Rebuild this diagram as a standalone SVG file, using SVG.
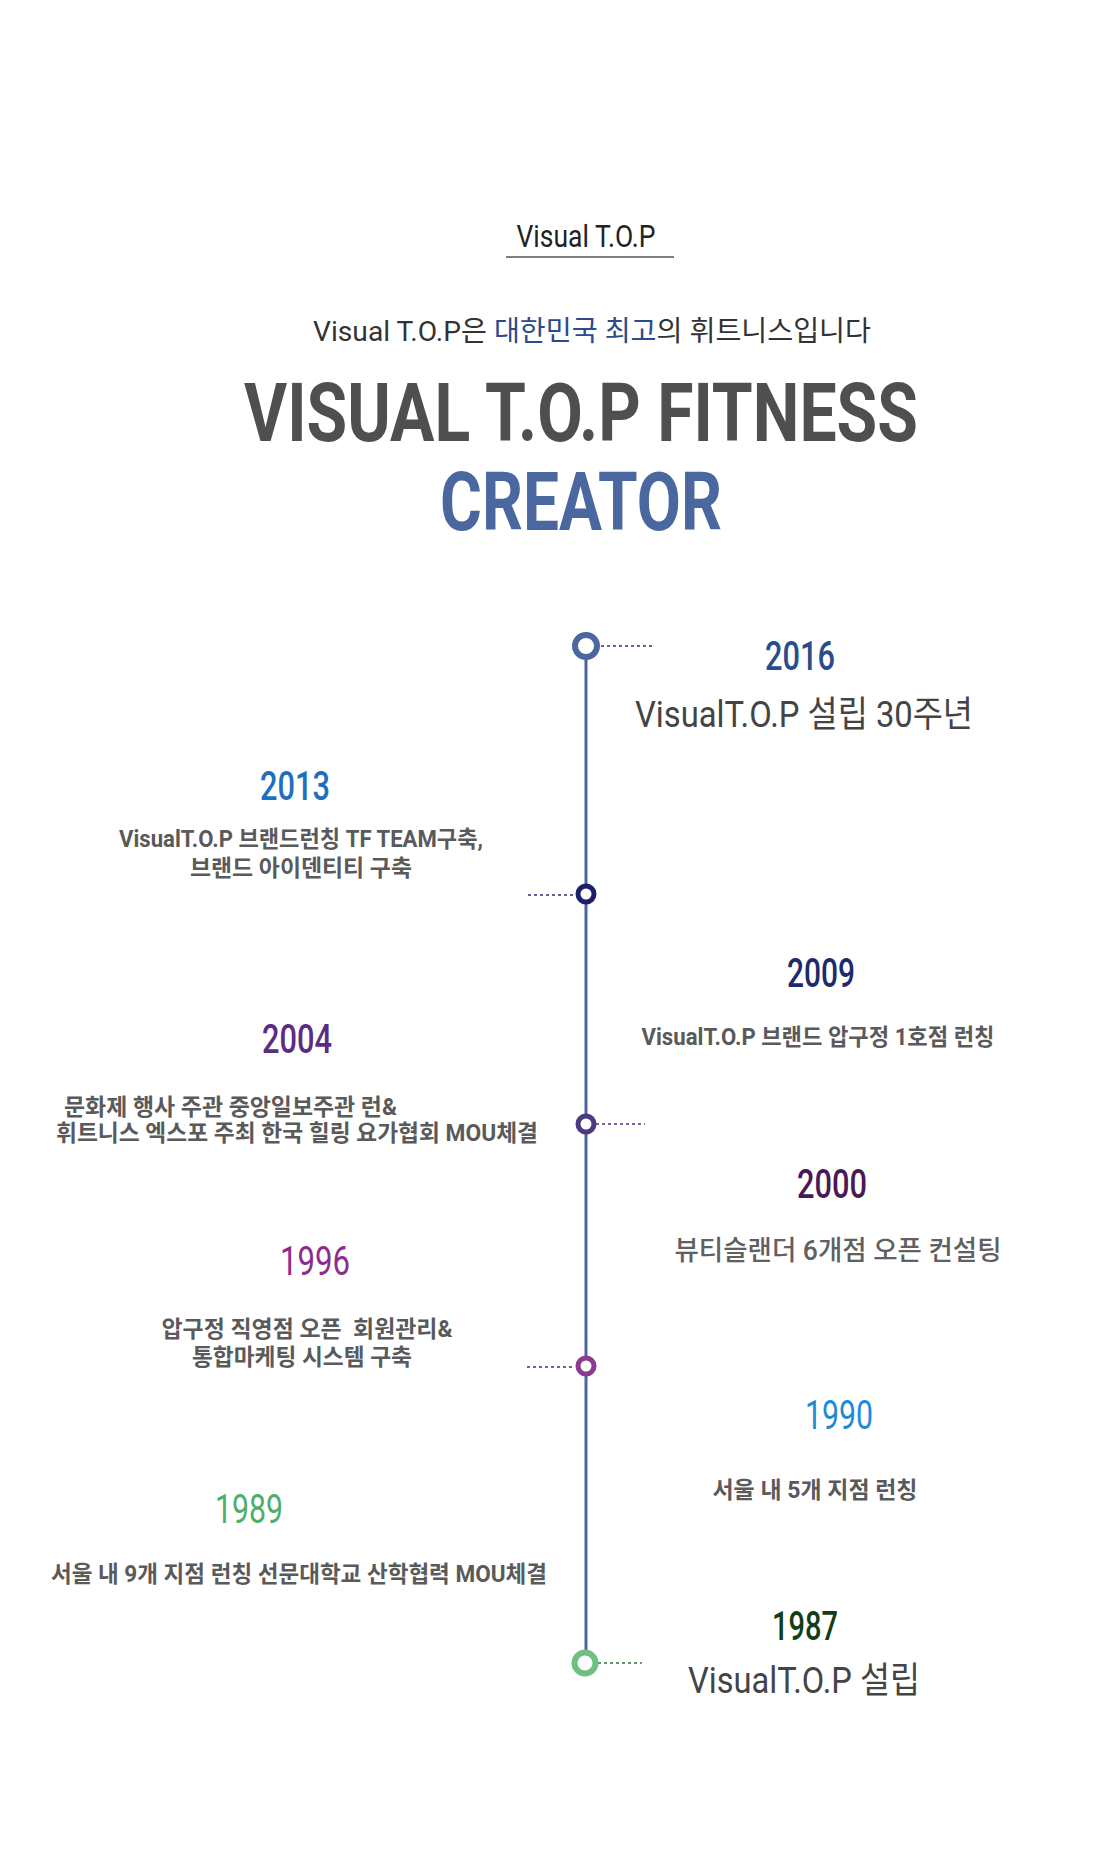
<svg xmlns="http://www.w3.org/2000/svg" width="1120" height="1869" viewBox="0 0 1120 1869">
<defs>
<style>
.bg{fill:#ffffff}
.hdr{font-family:Roboto,"Liberation Sans","Noto Sans CJK KR",sans-serif;font-size:32px;fill:#222;text-anchor:middle}
.sub{font-family:Roboto,"Noto Sans CJK KR",sans-serif;font-size:28px;fill:#333;text-anchor:middle}
.ttl{font-family:Roboto,"Liberation Sans",sans-serif;font-size:82px;font-weight:bold;text-anchor:middle}
.yr{font-family:Roboto,"Liberation Sans",sans-serif;font-size:40px;font-weight:500;text-anchor:middle}
.big{font-family:Roboto,"Noto Sans CJK KR",sans-serif;font-size:36px;fill:#444;text-anchor:middle}
.dsc{font-family:Roboto,"Noto Sans CJK KR",sans-serif;font-size:23px;font-weight:bold;fill:#5a5a5a;text-anchor:middle;white-space:pre}
.dl{text-anchor:start}
.dot{fill:none;stroke-width:1.3;stroke-dasharray:3 3}
.ring{fill:#fff}
</style>
</defs>
<rect class="bg" x="0" y="0" width="1120" height="1869"/>

<g id="header">
<text class="hdr" x="586" y="247" textLength="139" lengthAdjust="spacingAndGlyphs">Visual T.O.P</text>
<line x1="506" y1="257" x2="674" y2="257" stroke="#555" stroke-width="1.3"/>
<text class="sub" x="592" y="341" textLength="558" lengthAdjust="spacingAndGlyphs">Visual T.O.P은 <tspan fill="#2c4a8c">대한민국 최고</tspan>의 휘트니스입니다</text>
<text class="ttl" x="581" y="441" fill="#4f4f4f" textLength="674" lengthAdjust="spacingAndGlyphs">VISUAL T.O.P FITNESS</text>
<text class="ttl" x="581" y="530" fill="#4a67a0" textLength="282" lengthAdjust="spacingAndGlyphs">CREATOR</text>
</g>

<g id="connectors">
<line x1="586" y1="646" x2="586" y2="1662" stroke="#4a64a0" stroke-width="3"/>
<line class="dot" x1="601" y1="646" x2="653" y2="646" stroke="#2a3a7a"/>
<line class="dot" x1="528" y1="895" x2="576" y2="895" stroke="#3a2a7a"/>
<line class="dot" x1="596" y1="1124" x2="645" y2="1124" stroke="#5a2a80"/>
<line class="dot" x1="527" y1="1367" x2="575" y2="1367" stroke="#2a3a7a"/>
<line class="dot" x1="598" y1="1663" x2="642" y2="1663" stroke="#2a7a3a"/>
</g>

<g id="node-2016">
<circle class="ring" cx="586" cy="646" r="11" stroke="#4a67a0" stroke-width="6"/>
<text class="yr" x="800" y="670" fill="#2b4c8c" textLength="70" lengthAdjust="spacingAndGlyphs">2016</text>
<text class="big" x="804" y="727" textLength="338" lengthAdjust="spacingAndGlyphs">VisualT.O.P 설립 30주년</text>
</g>

<g id="node-2013">
<circle class="ring" cx="586" cy="894" r="8" stroke="#1d1f6e" stroke-width="5"/>
<text class="yr" x="295" y="800" fill="#1f6fc0" textLength="70" lengthAdjust="spacingAndGlyphs">2013</text>
<text class="dsc" x="301" y="847" textLength="364" lengthAdjust="spacingAndGlyphs">VisualT.O.P 브랜드런칭 TF TEAM구축,</text>
<text class="dsc" x="301" y="876" textLength="222" lengthAdjust="spacingAndGlyphs">브랜드 아이덴티티 구축</text>
</g>

<g id="node-2009">
<text class="yr" x="821" y="987" fill="#1c2b6b" textLength="68" lengthAdjust="spacingAndGlyphs">2009</text>
<text class="dsc" x="818" y="1045" textLength="353" lengthAdjust="spacingAndGlyphs">VisualT.O.P 브랜드 압구정 1호점 런칭</text>
</g>

<g id="node-2004">
<circle class="ring" cx="586" cy="1124" r="8" stroke="#4b3a80" stroke-width="5"/>
<text class="yr" x="297" y="1053" fill="#5e2b82" textLength="70" lengthAdjust="spacingAndGlyphs">2004</text>
<text class="dsc dl" x="64" y="1115" textLength="333" lengthAdjust="spacingAndGlyphs">문화제 행사 주관 중앙일보주관 런&amp;</text>
<text class="dsc dl" x="56" y="1141" textLength="482" lengthAdjust="spacingAndGlyphs">휘트니스 엑스포 주최 한국 힐링 요가협회 MOU체결</text>
</g>

<g id="node-2000">
<text class="yr" x="832" y="1198" fill="#4a1757" textLength="70" lengthAdjust="spacingAndGlyphs">2000</text>
<text class="dsc" x="838" y="1260" style="font-size:27px;font-weight:500;fill:#606060" textLength="327" lengthAdjust="spacingAndGlyphs">뷰티슬랜더 6개점 오픈 컨설팅</text>
</g>

<g id="node-1996">
<circle class="ring" cx="586" cy="1366" r="8" stroke="#8b3a8e" stroke-width="5"/>
<text class="yr" x="315" y="1275" fill="#8b2c8b" style="font-weight:400" textLength="70" lengthAdjust="spacingAndGlyphs">1996</text>
<text class="dsc" x="307" y="1337" textLength="291" lengthAdjust="spacingAndGlyphs">압구정 직영점 오픈  회원관리&amp;</text>
<text class="dsc" x="302" y="1365" textLength="220" lengthAdjust="spacingAndGlyphs">통합마케팅 시스템 구축</text>
</g>

<g id="node-1990">
<text class="yr" x="839" y="1429" fill="#1c8bd3" style="font-weight:400" textLength="68" lengthAdjust="spacingAndGlyphs">1990</text>
<text class="dsc" x="815" y="1498" textLength="205" lengthAdjust="spacingAndGlyphs">서울 내 5개 지점 런칭</text>
</g>

<g id="node-1989">
<text class="yr" x="249" y="1523" fill="#4cae6c" style="font-weight:400" textLength="68" lengthAdjust="spacingAndGlyphs">1989</text>
<text class="dsc" x="299" y="1582" textLength="496" lengthAdjust="spacingAndGlyphs">서울 내 9개 지점 런칭 선문대학교 산학협력 MOU체결</text>
</g>

<g id="node-1987">
<circle class="ring" cx="585" cy="1663" r="10.5" stroke="#6dbf82" stroke-width="6"/>
<text class="yr" x="805" y="1640" fill="#123d17" textLength="66" lengthAdjust="spacingAndGlyphs">1987</text>
<text class="big" x="804" y="1693" textLength="232" lengthAdjust="spacingAndGlyphs">VisualT.O.P 설립</text>
</g>
</svg>
